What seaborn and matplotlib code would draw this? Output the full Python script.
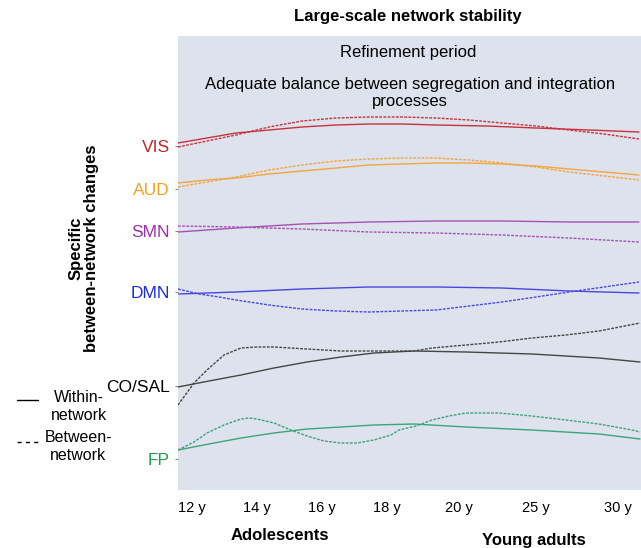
import numpy as np
import pandas as pd
import matplotlib
matplotlib.use("Agg")
import matplotlib.pyplot as plt
from matplotlib.lines import Line2D
import seaborn as sns

# ---- data (horizontal position along the timeline, vertical level) ----
networks = ["VIS", "AUD", "SMN", "DMN", "CO/SAL", "FP"]
age_labels = ["12 y", "14 y", "16 y", "18 y", "20 y", "25 y", "30 y"]
age_pos = [14, 79, 144, 209, 281, 358, 440]

vis_w_x = [179, 208, 237, 270, 303, 337, 370, 403, 437, 487, 537, 590, 640]
vis_w_y = [143, 138, 133, 130, 127, 125, 124, 124, 125, 126, 128, 130, 132]
vis_b_x = [179, 208, 237, 270, 303, 337, 370, 403, 437, 470, 503, 537, 570, 605, 640]
vis_b_y = [147, 141, 135, 127, 121, 118, 117, 117, 118, 120, 123, 126, 130, 134, 139]

aud_w_x = [179, 208, 237, 270, 303, 337, 370, 403, 437, 470, 503, 537, 570, 605, 640]
aud_w_y = [183, 180, 178, 174, 171, 168, 165, 164, 163, 163, 164, 166, 169, 172, 175]
aud_b_x = [179, 208, 237, 270, 303, 337, 370, 403, 437, 470, 503, 537, 570, 605, 640]
aud_b_y = [187, 182, 177, 170, 165, 161, 159, 158, 158, 160, 163, 167, 172, 176, 180]

smn_w_x = [179, 237, 303, 370, 437, 503, 570, 640]
smn_w_y = [232, 228, 224, 222, 221, 221, 222, 222]
smn_b_x = [179, 237, 303, 370, 437, 503, 570, 640]
smn_b_y = [226, 227, 229, 232, 233, 235, 238, 242]

dmn_w_x = [179, 237, 303, 370, 437, 503, 570, 640]
dmn_w_y = [294, 292, 289, 287, 287, 288, 291, 293]
dmn_b_x = [179, 200, 220, 237, 270, 303, 337, 370, 403, 437, 470, 503, 537, 570, 605, 640]
dmn_b_y = [289, 294, 297, 300, 305, 309, 311, 312, 311, 310, 306, 302, 297, 292, 287, 282]

cos_w_x = [179, 210, 242, 275, 308, 342, 375, 415, 467, 533, 600, 641]
cos_w_y = [387, 381, 375, 368, 362, 357, 353, 351, 352, 354, 358, 362]
cos_b_x = [179, 195, 208, 225, 242, 258, 275, 308, 342, 375, 415, 433, 467, 500,
           533, 567, 600, 641]
cos_b_y = [405, 383, 370, 355, 348, 347, 347, 349, 351, 351, 351, 348, 345, 342,
           338, 335, 331, 323]

fp_w_x = [179, 210, 242, 275, 308, 342, 375, 415, 467, 533, 600, 641]
fp_w_y = [450, 444, 438, 433, 429, 427, 425, 424, 427, 430, 434, 439]
fp_b_x = [179, 195, 208, 225, 242, 250, 258, 275, 292, 308, 325, 342, 358, 375,
          392, 400, 417, 433, 450, 467, 483, 500, 533, 567, 600, 633, 641]
fp_b_y = [450, 442, 433, 425, 419, 418, 419, 423, 430, 436, 441, 443, 443, 440,
          435, 430, 426, 420, 416, 413, 413, 413, 416, 420, 424, 430, 432]

label_pos = [146, 189, 231, 292, 386, 459]

line_colors = {"VIS": "#c8323c", "AUD": "#f2a541", "SMN": "#a552b3",
               "DMN": "#4848e0", "CO/SAL": "#454545", "FP": "#3aa57a"}
label_colors = {"VIS": "#c0272d", "AUD": "#f5a020", "SMN": "#9b2fae",
                "DMN": "#1a2ee0", "CO/SAL": "#000000", "FP": "#1e9e4e"}

series = {
    "VIS": (vis_w_x, vis_w_y, vis_b_x, vis_b_y),
    "AUD": (aud_w_x, aud_w_y, aud_b_x, aud_b_y),
    "SMN": (smn_w_x, smn_w_y, smn_b_x, smn_b_y),
    "DMN": (dmn_w_x, dmn_w_y, dmn_b_x, dmn_b_y),
    "CO/SAL": (cos_w_x, cos_w_y, cos_b_x, cos_b_y),
    "FP": (fp_w_x, fp_w_y, fp_b_x, fp_b_y),
}

rows = []
for net, (wx, wy, bx, by) in series.items():
    for x, y in zip(wx, wy):
        rows.append({"x": x - 179, "y": 490 - y, "network": net, "kind": "Within-network"})
    for x, y in zip(bx, by):
        rows.append({"x": x - 179, "y": 490 - y, "network": net, "kind": "Between-network"})
df = pd.DataFrame(rows)

# ---- figure ----
sns.set_style("white")
plt.rcParams["font.family"] = ["Liberation Sans", "DejaVu Sans"]
plt.rcParams["text.color"] = "black"
plt.rcParams["xtick.color"] = "black"
plt.rcParams["ytick.color"] = "black"

W, H = 641, 548
fig = plt.figure(figsize=(W / 100, H / 100), dpi=100)
ax = fig.add_axes([178 / W, 1 - 490 / H, (W - 178) / W, (490 - 36) / H])
ax.set_facecolor("#dde2ed")
for s in ax.spines.values():
    s.set_visible(False)

sns.lineplot(data=df, x="x", y="y", hue="network", style="kind",
             palette=line_colors,
             dashes={"Within-network": "", "Between-network": (2, 1)},
             estimator=None, sort=True, legend=False, linewidth=1.0, ax=ax)

ax.set_xlim(0, W - 178)
ax.set_ylim(0, 454)
ax.set_xlabel("")
ax.set_ylabel("")

ax.set_xticks(age_pos)
ax.set_xticklabels(age_labels, fontsize=10.5)
ax.tick_params(axis="x", length=0, pad=8)

ax.set_yticks([490 - p for p in label_pos])
ax.set_yticklabels(networks, fontsize=12.5)
for t, net in zip(ax.get_yticklabels(), networks):
    t.set_color(label_colors[net])
ax.tick_params(axis="y", length=2, pad=4, color="#888888", left=True)

def fx(px):
    return px / W

def fy(py):
    return 1 - py / H

fig.text(fx(408), fy(17), "Large-scale network stability", ha="center", va="center",
         fontsize=12, fontweight="bold")
fig.text(fx(408), fy(53), "Refinement period", ha="center", va="center", fontsize=12)
fig.text(fx(410), fy(93), "Adequate balance between segregation and integration\nprocesses",
         ha="center", va="center", fontsize=12, multialignment="center",
         linespacing=1.1)

fig.text(fx(84), fy(248), "Specific\nbetween-network changes", rotation=90,
         ha="center", va="center", fontsize=12, fontweight="bold",
         multialignment="center", linespacing=1.05)

fig.text(fx(280), fy(535), "Adolescents", ha="center", va="center", fontsize=12,
         fontweight="bold")
fig.text(fx(534), fy(540), "Young adults", ha="center", va="center", fontsize=12,
         fontweight="bold")

# legend
fig.add_artist(Line2D([fx(17), fx(38)], [fy(400), fy(400)], color="black", lw=1.0,
                      transform=fig.transFigure))
fig.add_artist(Line2D([fx(17), fx(38)], [fy(442), fy(442)], color="black", lw=1.0,
                      linestyle=(0, (3, 3)), transform=fig.transFigure))
fig.text(fx(79), fy(406), "Within-\nnetwork", ha="center", va="center", fontsize=11.5,
         multialignment="center", linespacing=1.25)
fig.text(fx(78), fy(447), "Between-\nnetwork", ha="center", va="center", fontsize=11.5,
         multialignment="center", linespacing=1.25)

fig.savefig("out.png", dpi=100)
